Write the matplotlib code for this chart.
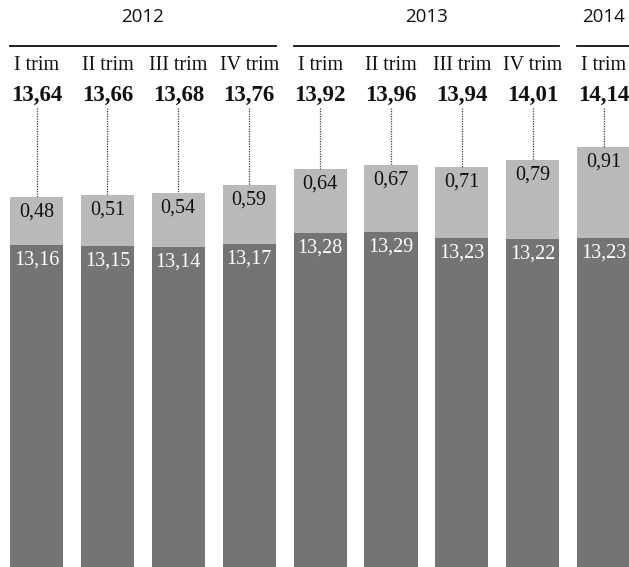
import matplotlib
matplotlib.use("Agg")
import matplotlib.pyplot as plt
import numpy as np

years = ["2012", "2013", "2014"]
year_groups = [[0, 1, 2, 3], [4, 5, 6, 7], [8]]
quarters = ["I trim", "II trim", "III trim", "IV trim",
            "I trim", "II trim", "III trim", "IV trim", "I trim"]
base = [13.16, 13.15, 13.14, 13.17, 13.28, 13.29, 13.23, 13.22, 13.23]
extra = [0.48, 0.51, 0.54, 0.59, 0.64, 0.67, 0.71, 0.79, 0.91]
totals = ["13,64", "13,66", "13,68", "13,76", "13,92", "13,96", "13,94", "14,01", "14,14"]

def fmt(v):
    return f"{v:.2f}".replace(".", ",")

W, H = 629, 567
fig = plt.figure(figsize=(W / 100, H / 100), dpi=100)
ax = fig.add_axes([0, 0, 1, 1])
x = np.arange(len(base))
bw = 0.75
dark = "#747474"
light = "#bababa"

ax.bar(x, base, width=bw, color=dark, bottom=0)
ax.bar(x, extra, width=bw, bottom=base, color=light)

ax.set_xlim(-0.515, 8.357)
ax.set_ylim(9.94, 15.61)
ax.axis("off")

def py(pix):
    return 1 - pix / H

serif = "Liberation Serif"
for i in x:
    top = base[i] + extra[i]
    ax.text(i, top - 0.15, fmt(extra[i]), ha="center", va="center",
            fontsize=14.5, family=serif, color="#111111")
    ax.text(i, base[i] - 0.15, fmt(base[i]), ha="center", va="center",
            fontsize=14.5, family=serif, color="white")
    ax.plot([i, i], [14.53, top], color="#444444", lw=0.9, ls=(0, (1, 1)))
    ax.text(i, py(66), quarters[i], transform=ax.get_xaxis_transform(),
            ha="center", va="center", fontsize=14.5, family=serif, color="#111111")
    ax.text(i, py(95), totals[i], transform=ax.get_xaxis_transform(),
            ha="center", va="center", fontsize=16.5, family=serif,
            fontweight="bold", color="#111111")

for yl, grp in zip(years, year_groups):
    c = (grp[0] + grp[-1]) / 2
    ax.text(c, py(17), yl, transform=ax.get_xaxis_transform(),
            ha="center", va="center", fontsize=13.5, family="Open Sans", color="#111111")
    right = grp[-1] + bw / 2 if len(grp) > 1 else 9
    ax.plot([grp[0] - bw / 2, right], [py(46), py(46)],
            transform=ax.get_xaxis_transform(), color="#111111", lw=1.3,
            clip_on=False)

fig.savefig("out.png", dpi=100)
